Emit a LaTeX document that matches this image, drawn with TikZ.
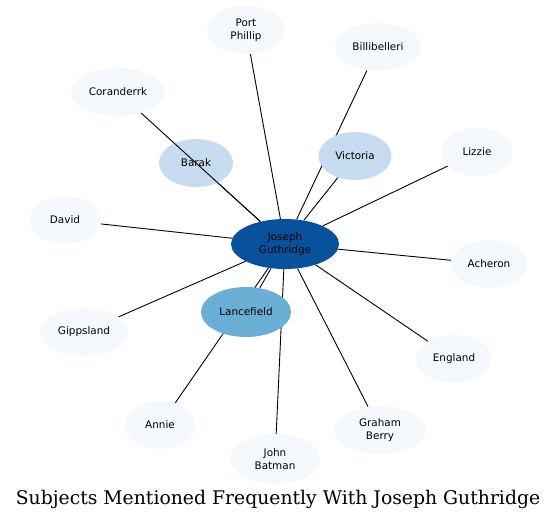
\documentclass[tikz,border=0pt]{standalone}
\usepackage{fontspec}
\setmainfont{DejaVu Serif}
\newfontfamily\labelfont{DejaVu Sans}
\usetikzlibrary{shapes.geometric,backgrounds}

\definecolor{paleblue}{HTML}{F5F9FE}
\definecolor{lightblue}{HTML}{C6DBEF}
\definecolor{midblue}{HTML}{6BAED6}
\definecolor{deepblue}{HTML}{08519C}

\tikzset{
    subject/.style = {
        ellipse,
        fill = paleblue,
        inner sep = 0pt,
        minimum height = 48pt,
        align = center,
        font = \labelfont\fontsize{10.4}{13}\selectfont
    },
    link/.style = {
        draw = black,
        line width = 0.9pt
    }
}

\begin{document}
\begin{tikzpicture}[x=1pt,y=-1pt]
            \useasboundingbox (0,0) rectangle (557,520);

            % the person in the middle
            \node[subject, fill = deepblue, minimum width = 108pt, minimum height = 50pt] (guthridge) at (285,244) {Joseph\\Guthridge};

            % subjects around him
            \node[subject, minimum width = 78pt] (portphillip) at (246,30) {Port\\Phillip};
            \node[subject, minimum width = 86pt] (billibelleri) at (378,47) {Billibelleri};
            \node[subject, minimum width = 94pt] (coranderrk) at (118,92) {Coranderrk};
            \node[subject, fill = lightblue, minimum width = 74pt] (barak) at (196,163) {Barak};
            \node[subject, fill = lightblue, minimum width = 73pt] (victoria) at (355,156) {Victoria};
            \node[subject, minimum width = 72pt] (lizzie) at (477,152) {Lizzie};
            \node[subject, minimum width = 72pt] (david) at (65,220) {David};
            \node[subject, minimum width = 76pt] (acheron) at (489,264) {Acheron};
            \node[subject, minimum width = 88pt] (gippsland) at (84,332) {Gippsland};
            \node[subject, fill = midblue, minimum width = 90pt, minimum height = 50pt] (lancefield) at (246,312) {Lancefield};
            \node[subject, minimum width = 76pt] (england) at (454,359) {England};
            \node[subject, minimum width = 72pt] (annie) at (160,425) {Annie};
            \node[subject, minimum width = 92pt] (graham) at (380,430) {Graham\\Berry};
            \node[subject, minimum width = 90pt, minimum height = 50pt] (batman) at (275,459) {John\\Batman};

            % links, kept under the nodes
            \begin{pgfonlayer}{background}
                \foreach \other in {portphillip,billibelleri,victoria,lizzie,david,acheron,gippsland,lancefield,england,annie,graham,batman,barak}
                    \draw[link] (guthridge) -- (\other);
            \end{pgfonlayer}
            % this one runs over Barak
            \draw[link] (guthridge) -- (coranderrk);

            \node[anchor = base, font = \fontsize{18.8}{22}\selectfont] (title) at (278,504) {Subjects Mentioned Frequently With Joseph Guthridge};
        \end{tikzpicture}
\end{document}
